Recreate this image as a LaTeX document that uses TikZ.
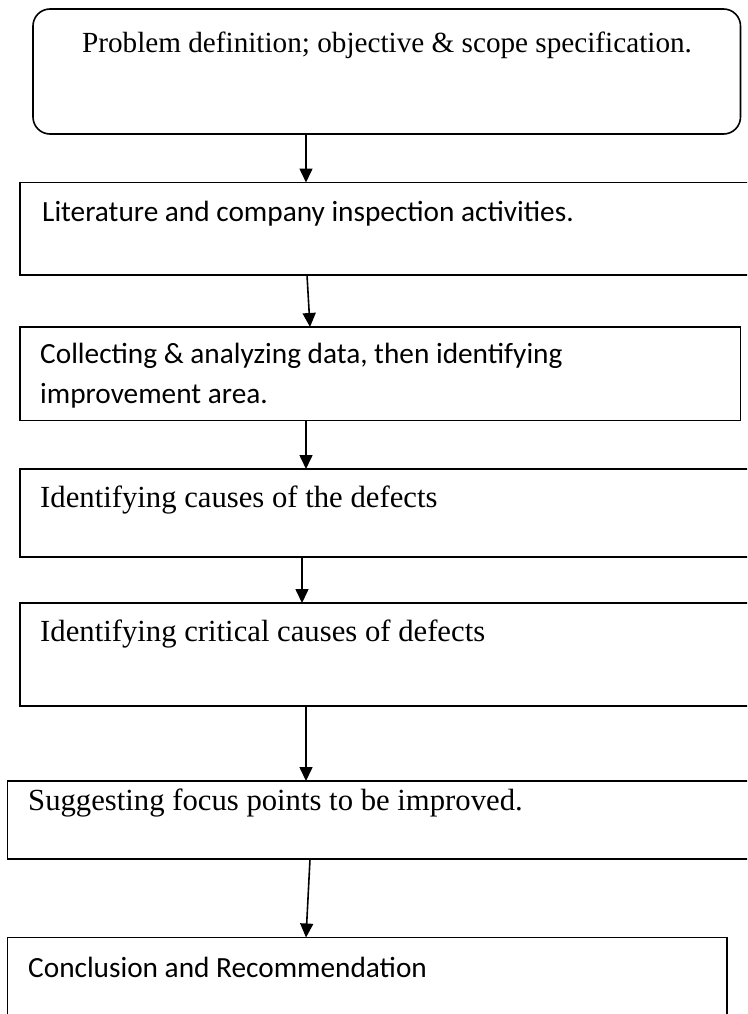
\documentclass[tikz,border=0pt]{standalone}
\usepackage{fontspec}
\setmainfont{Liberation Serif}
\newfontfamily\carlitofont{Carlito}
\usetikzlibrary{arrows.meta}
\tikzset{
  box/.style={draw=black, line width=1.6pt, rectangle, inner sep=0pt, outer sep=0pt, anchor=north west},
  roundbox/.style={box, rounded corners=17pt},
  serif/.style={inner sep=0pt, anchor=base west, font=\fontsize{30.7}{40}\selectfont},
  sans/.style={inner sep=0pt, anchor=base west, font=\carlitofont\fontsize{29.3}{40}\selectfont},
  arr/.style={draw=black, line width=1.6pt, -{Triangle[length=14pt,width=13pt]}}
}
\begin{document}
\begin{tikzpicture}[x=1pt,y=-1pt]
\useasboundingbox (0,0) rectangle (747,1014);
\clip (0,0) rectangle (747,1014);
% boxes
\node[roundbox, minimum width=707.5pt, minimum height=125pt] (b1) at (33,9) {};
\node[box, minimum width=740pt, minimum height=92.5pt] (b2) at (20,182.5) {};
\node[box, minimum width=720.5pt, minimum height=93.5pt] (b3) at (20,327) {};
\node[box, minimum width=740pt, minimum height=88pt] (b4) at (20,469) {};
\node[box, minimum width=740pt, minimum height=103pt] (b5) at (20,603) {};
\node[box, minimum width=752.5pt, minimum height=78pt] (b6) at (7.5,781) {};
\node[box, minimum width=719.5pt, minimum height=92.5pt] (b7) at (7.5,937.5) {};
% texts
\node[serif, anchor=base, font=\fontsize{29.2}{40}\selectfont] (t1) at (387,53) {Problem definition; objective \& scope specification.};
\node[sans] (t2) at (42,221.7) {Literature and company inspection activities.};
\node[sans, align=left] (t3) at (40,403) {Collecting \& analyzing data, then identifying\\improvement area.};
\node[serif] (t4) at (40,507.7) {Identifying causes of the defects};
\node[serif] (t5) at (40,641.7) {Identifying critical causes of defects};
\node[serif] (t6) at (28,810) {Suggesting focus points to be improved.};
\node[sans] (t7) at (28,977) {Conclusion and Recommendation};
% arrows
\draw[arr] ([xshift=273pt]b1.south west) -- ([xshift=286pt]b2.north west);
\draw[arr] ([xshift=287pt]b2.south west) -- ([xshift=290pt]b3.north west);
\draw[arr] ([xshift=286pt]b3.south west) -- ([xshift=286pt]b4.north west);
\draw[arr] ([xshift=282pt]b4.south west) -- ([xshift=282pt]b5.north west);
\draw[arr] ([xshift=286pt]b5.south west) -- ([xshift=298.5pt]b6.north west);
\draw[arr] ([xshift=302.5pt]b6.south west) -- ([xshift=298.5pt]b7.north west);
\end{tikzpicture}
\end{document}
